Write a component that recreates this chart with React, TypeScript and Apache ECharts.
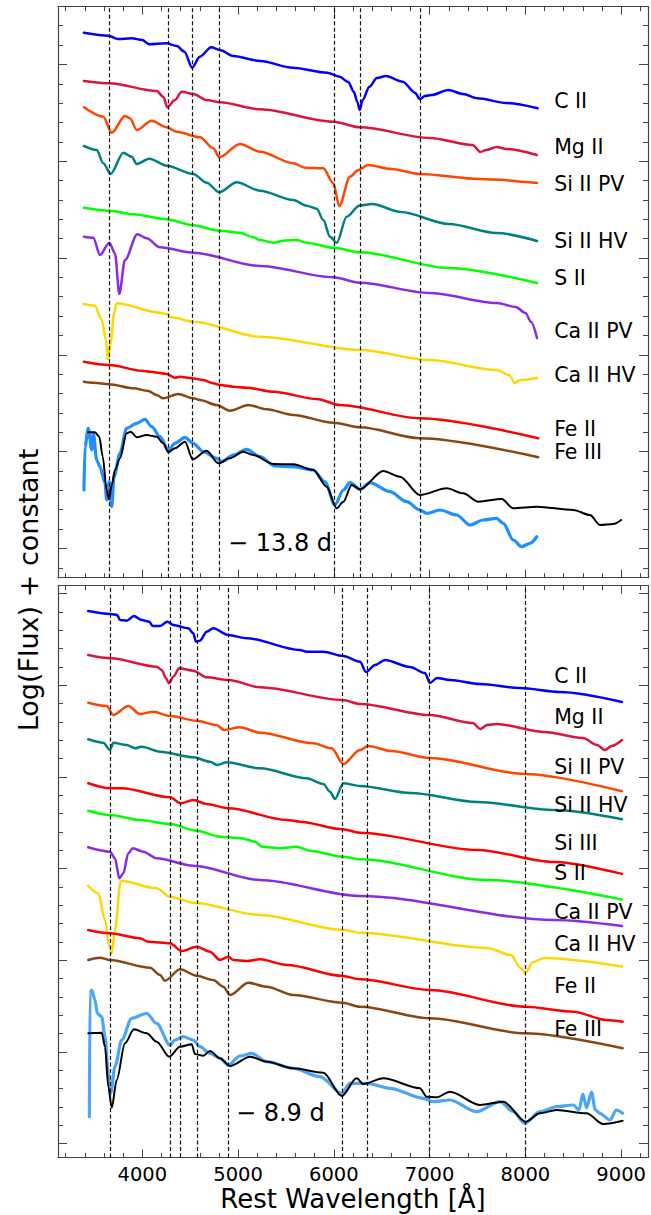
import React, { useEffect, useRef } from 'react';
import * as echarts from 'echarts';

// ---------- axis settings ----------
const X_MIN = 3120;
const X_MAX = 9280;
const xTickLabels = [4000, 5000, 6000, 7000, 8000, 9000];
const X_MINOR_STEP = 200;
const TOP_Y_RANGE = [-5.777, -0.067];
const BOT_Y_RANGE = [-5.775, -0.057];
const TOP_Y_MAJOR0 = -5.484;
const TOP_Y_MAJOR_STEP = 0.968;
const BOT_Y_MAJOR0 = -5.637;
const BOT_Y_MAJOR_STEP = 0.917;

// ---------- line identification markers (Å) ----------
const topLines = [3650, 4270, 4520, 4800, 6000, 6275, 6900];
const botLines = [3670, 4290, 4400, 4570, 4900, 6090, 6350, 7000, 8000];

// ---------- top panel (-13.8 d) ----------
const tCII = [[3390,-0.327],[3650,-0.357],[3745,-0.39],[3890,-0.383],[4000,-0.40],[4070,-0.443],[4250,-0.433],[4360,-0.46],[4440,-0.517],[4520,-0.677],[4600,-0.567],[4720,-0.473],[4810,-0.50],[4950,-0.56],[5230,-0.61],[5570,-0.677],[5930,-0.727],[6060,-0.767],[6150,-0.82],[6210,-0.92],[6245,-1.02],[6270,-1.10],[6300,-1.00],[6371,-0.867],[6450,-0.78],[6544,-0.76],[6719,-0.817],[6850,-0.93],[6899,-0.993],[6950,-0.96],[7021,-0.95],[7195,-0.90],[7350,-0.94],[7498,-0.983],[7800,-1.03],[8127,-1.083]];
const tMgII = [[3391,-0.81],[3656,-0.833],[4150,-0.91],[4219,-0.967],[4261,-1.073],[4341,-1.0],[4411,-0.917],[4532,-0.94],[4672,-1.0],[4811,-1.023],[5229,-1.093],[5994,-1.217],[6273,-1.273],[7000,-1.38],[7450,-1.45],[7530,-1.52],[7590,-1.50],[7700,-1.47],[7800,-1.49],[8120,-1.55]];
const tSiIIPV = [[3391,-1.073],[3593,-1.167],[3681,-1.327],[3819,-1.16],[3872,-1.183],[3942,-1.30],[4098,-1.207],[4255,-1.273],[4359,-1.317],[4602,-1.373],[4741,-1.483],[4804,-1.573],[5020,-1.44],[5229,-1.517],[5577,-1.633],[5699,-1.677],[5890,-1.683],[5994,-1.833],[6057,-2.06],[6168,-1.767],[6255,-1.70],[6356,-1.65],[6600,-1.69],[6899,-1.74],[7526,-1.79],[8121,-1.83]];
const tSiIIHV = [[3391,-1.46],[3524,-1.50],[3593,-1.633],[3670,-1.74],[3802,-1.527],[3889,-1.567],[3942,-1.64],[4073,-1.587],[4255,-1.657],[4532,-1.74],[4672,-1.827],[4804,-1.923],[4986,-1.823],[5229,-1.907],[5577,-2.0],[5717,-2.057],[5821,-2.087],[5890,-2.20],[5960,-2.367],[6030,-2.427],[6134,-2.167],[6266,-2.057],[6400,-2.04],[6700,-2.12],[7200,-2.24],[7700,-2.33],[8121,-2.41]];
const tSII = [[3391,-2.077],[3656,-2.107],[3906,-2.143],[4255,-2.193],[4532,-2.253],[4804,-2.307],[5020,-2.327],[5159,-2.373],[5229,-2.40],[5368,-2.427],[5472,-2.407],[5612,-2.40],[5717,-2.427],[5994,-2.477],[6273,-2.523],[7200,-2.68],[8121,-2.83]];
const tCaIIPV = [[3391,-2.367],[3489,-2.377],[3558,-2.55],[3656,-2.427],[3715,-2.533],[3760,-2.94],[3819,-2.60],[3948,-2.343],[4046,-2.383],[4185,-2.473],[4532,-2.527],[5229,-2.66],[5994,-2.773],[6273,-2.827],[7000,-2.93],[7700,-3.03],[7900,-3.07],[8000,-3.13],[8060,-3.22],[8121,-3.38]];
const tCaIIHV = [[3391,-3.04],[3506,-3.057],[3576,-3.20],[3621,-3.40],[3639,-3.593],[3670,-3.433],[3705,-3.133],[3733,-3.033],[4185,-3.127],[4255,-3.14],[4307,-3.173],[4532,-3.217],[5229,-3.367],[6273,-3.50],[7000,-3.60],[7700,-3.70],[7830,-3.75],[7890,-3.83],[7950,-3.80],[8121,-3.78]];
const tFeII = [[3391,-3.617],[3656,-3.65],[3994,-3.707],[4081,-3.717],[4255,-3.74],[4341,-3.777],[4394,-3.767],[4516,-3.783],[4637,-3.80],[4741,-3.833],[4811,-3.85],[4950,-3.867],[5090,-3.877],[5368,-3.917],[5821,-3.99],[6064,-4.05],[6899,-4.183],[8134,-4.383]];
const tFeIII = [[3391,-3.817],[3489,-3.827],[3656,-3.843],[3906,-3.883],[4063,-3.91],[4150,-3.95],[4219,-3.983],[4376,-3.94],[4532,-3.983],[4602,-4.0],[4777,-4.05],[4916,-4.107],[5107,-4.05],[5299,-4.093],[5577,-4.15],[5994,-4.227],[6273,-4.273],[6899,-4.383],[8134,-4.573]];
const tObs = [[3391,-4.90],[3402,-4.467],[3436,-4.283],[3472,-4.50],[3489,-4.33],[3524,-4.60],[3558,-4.667],[3611,-4.833],[3628,-5.0],[3656,-4.817],[3681,-5.067],[3705,-4.767],[3767,-4.533],[3837,-4.283],[3942,-4.233],[4028,-4.193],[4098,-4.267],[4185,-4.367],[4272,-4.50],[4341,-4.433],[4446,-4.373],[4532,-4.433],[4637,-4.517],[4777,-4.583],[4829,-4.617],[4950,-4.55],[5090,-4.493],[5229,-4.567],[5385,-4.66],[5577,-4.667],[5785,-4.70],[5907,-4.817],[6011,-5.05],[6099,-4.90],[6168,-4.827],[6273,-4.893],[6377,-4.827],[6586,-4.917],[6760,-5.017],[6899,-5.10],[6969,-5.133],[7108,-5.10],[7282,-5.15],[7421,-5.25],[7560,-5.20],[7700,-5.183],[7769,-5.233],[7873,-5.40],[7961,-5.467],[8048,-5.433],[8118,-5.367]];
const tModel = [[3436,-4.323],[3506,-4.323],[3551,-4.367],[3587,-4.567],[3628,-4.90],[3652,-4.993],[3681,-4.85],[3715,-4.70],[3767,-4.583],[3837,-4.333],[3879,-4.317],[3942,-4.373],[4046,-4.35],[4150,-4.367],[4219,-4.433],[4272,-4.523],[4341,-4.483],[4446,-4.417],[4526,-4.593],[4672,-4.507],[4794,-4.633],[4916,-4.583],[5055,-4.517],[5159,-4.55],[5368,-4.64],[5577,-4.643],[5785,-4.70],[5925,-4.867],[6030,-5.083],[6099,-5.017],[6186,-4.85],[6273,-4.893],[6516,-4.71],[6690,-4.767],[6899,-4.95],[7178,-4.883],[7351,-4.933],[7508,-5.017],[7752,-4.99],[7873,-5.083],[8118,-5.067],[8500,-5.10],[8674,-5.15],[8778,-5.25],[8917,-5.24],[9000,-5.20]];

// ---------- bottom panel (-8.9 d) ----------
const bCII = [[3436,-0.31],[3670,-0.34],[3739,-0.35],[3767,-0.40],[3837,-0.407],[3913,-0.36],[3994,-0.40],[4073,-0.417],[4109,-0.46],[4185,-0.46],[4261,-0.417],[4324,-0.45],[4480,-0.483],[4532,-0.533],[4561,-0.617],[4602,-0.607],[4672,-0.517],[4741,-0.483],[4898,-0.55],[5090,-0.583],[5646,-0.70],[5717,-0.717],[5890,-0.717],[6099,-0.76],[6273,-0.817],[6336,-0.92],[6430,-0.85],[6534,-0.80],[6795,-0.87],[6951,-0.93],[7004,-1.03],[7077,-0.98],[7212,-1.00],[7526,-1.04],[7943,-1.08],[8361,-1.12],[9008,-1.22]];
const bMgII = [[3436,-0.75],[3670,-0.783],[4150,-0.867],[4203,-0.90],[4248,-0.983],[4279,-1.033],[4324,-0.967],[4386,-0.883],[4532,-0.907],[4672,-0.973],[4902,-1.0],[5229,-1.073],[6092,-1.20],[6273,-1.24],[7000,-1.35],[7450,-1.43],[7530,-1.49],[7600,-1.45],[7700,-1.44],[8200,-1.52],[8600,-1.58],[8750,-1.65],[8830,-1.70],[8900,-1.66],[9008,-1.60]];
const bSiIIPV = [[3436,-1.227],[3628,-1.26],[3697,-1.35],[3854,-1.26],[3976,-1.34],[4115,-1.317],[4289,-1.36],[4568,-1.407],[4777,-1.45],[4853,-1.50],[5020,-1.473],[5229,-1.527],[5785,-1.633],[5977,-1.683],[6099,-1.84],[6273,-1.70],[6360,-1.66],[6600,-1.71],[7000,-1.78],[8000,-1.94],[9008,-2.113]];
const bSiIIHV = [[3436,-1.593],[3593,-1.627],[3663,-1.70],[3697,-1.627],[3837,-1.65],[3924,-1.683],[3994,-1.667],[4185,-1.717],[4532,-1.773],[4707,-1.817],[4784,-1.85],[4881,-1.823],[5229,-1.883],[5717,-1.983],[5890,-2.04],[5960,-2.117],[6012,-2.19],[6099,-2.033],[6273,-2.06],[6800,-2.13],[7500,-2.22],[8300,-2.30],[9008,-2.392]];
const bSiIII = [[3436,-2.033],[3663,-2.083],[3785,-2.083],[4289,-2.173],[4401,-2.233],[4532,-2.20],[4672,-2.24],[4902,-2.283],[5508,-2.40],[5646,-2.417],[6092,-2.493],[6273,-2.527],[7500,-2.70],[8300,-2.82],[9008,-2.939]];
const bSII = [[3436,-2.307],[3663,-2.35],[3976,-2.40],[4289,-2.44],[4568,-2.507],[4811,-2.567],[5038,-2.583],[5177,-2.617],[5247,-2.667],[5438,-2.683],[5612,-2.667],[5751,-2.707],[6092,-2.767],[6273,-2.793],[7600,-3.00],[9008,-3.196]];
const bCaIIPV = [[3436,-2.673],[3663,-2.717],[3715,-2.783],[3760,-2.983],[3802,-2.933],[3854,-2.733],[3900,-2.683],[4011,-2.717],[4150,-2.783],[4532,-2.857],[5229,-3.00],[6273,-3.16],[8300,-3.40],[9008,-3.46]];
const bCaIIHV = [[3436,-3.06],[3541,-3.133],[3611,-3.40],[3656,-3.667],[3681,-3.733],[3715,-3.50],[3775,-3.007],[4150,-3.083],[4289,-3.167],[4532,-3.227],[5229,-3.35],[6099,-3.50],[6273,-3.527],[7600,-3.68],[7850,-3.75],[7950,-3.88],[8000,-3.93],[8080,-3.82],[8200,-3.78],[9008,-3.866]];
const bFeII = [[3436,-3.50],[3663,-3.533],[3976,-3.583],[4063,-3.617],[4289,-3.633],[4411,-3.71],[4568,-3.667],[4707,-3.717],[4811,-3.80],[4898,-3.767],[4950,-3.80],[5090,-3.81],[5229,-3.793],[5508,-3.85],[6092,-3.96],[6273,-3.993],[7004,-4.10],[8003,-4.267],[8500,-4.317],[8848,-4.40],[9015,-4.417]];
const bFeIII = [[3436,-3.80],[3558,-3.777],[3663,-3.80],[4081,-3.877],[4185,-3.95],[4237,-4.007],[4394,-3.893],[4568,-3.957],[4741,-4.00],[4846,-4.067],[4916,-4.15],[5107,-4.027],[5299,-4.067],[5577,-4.15],[6092,-4.227],[6273,-4.267],[7004,-4.383],[8003,-4.533],[9015,-4.683]];
const bObs = [[3447,-5.367],[3454,-4.133],[3472,-4.10],[3506,-4.20],[3530,-4.333],[3576,-4.367],[3611,-4.567],[3645,-4.933],[3670,-5.133],[3715,-4.867],[3785,-4.60],[3889,-4.383],[4046,-4.333],[4150,-4.433],[4289,-4.65],[4341,-4.60],[4428,-4.567],[4532,-4.60],[4602,-4.667],[4707,-4.733],[4811,-4.783],[4898,-4.85],[5020,-4.76],[5142,-4.733],[5299,-4.817],[5577,-4.883],[5855,-4.967],[6082,-5.133],[6168,-5.033],[6343,-5.033],[6586,-5.083],[6934,-5.183],[7038,-5.217],[7212,-5.20],[7491,-5.317],[7734,-5.217],[7873,-5.317],[7995,-5.433],[8152,-5.317],[8326,-5.267],[8500,-5.25],[8560,-5.30],[8600,-5.14],[8639,-5.28],[8690,-5.12],[8730,-5.30],[8778,-5.333],[8883,-5.40],[8950,-5.30],[9015,-5.333]];
const bModel = [[3436,-4.533],[3576,-4.527],[3611,-4.667],[3645,-5.067],[3681,-5.277],[3733,-5.00],[3819,-4.633],[3913,-4.493],[4046,-4.533],[4150,-4.617],[4282,-4.767],[4394,-4.667],[4516,-4.643],[4550,-4.74],[4637,-4.757],[4707,-4.71],[4811,-4.783],[4916,-4.86],[5125,-4.767],[5299,-4.817],[5577,-4.883],[5890,-4.927],[6082,-5.16],[6238,-4.983],[6307,-5.04],[6516,-4.983],[6899,-5.083],[6969,-5.167],[7073,-5.173],[7212,-5.117],[7526,-5.25],[7769,-5.217],[8003,-5.417],[8152,-5.333],[8326,-5.30],[8639,-5.333],[8813,-5.44],[9015,-5.407]];

// ---------- labels ----------
const topIons = ['C II', 'Mg II', 'Si II PV', 'Si II HV', 'S II', 'Ca II PV', 'Ca II HV', 'Fe II', 'Fe III'];
const botIons = ['C II', 'Mg II', 'Si II PV', 'Si II HV', 'Si III', 'S II', 'Ca II PV', 'Ca II HV', 'Fe II', 'Fe III'];
const LABEL_WAVE = 8300;
const topLabelY = [-1.01, -1.47, -1.84, -2.41, -2.78, -3.31, -3.75, -4.29, -4.52];
const botLabelY = [-0.96, -1.37, -1.87, -2.25, -2.63, -2.93, -3.32, -3.64, -4.06, -4.49];
const topPhase = { text: '\u2212 13.8 d', at: [4895, -5.43] };
const botPhase = { text: '\u2212 8.9 d', at: [4978, -5.33] };

const topSeriesData = [tCII, tMgII, tSiIIPV, tSiIIHV, tSII, tCaIIPV, tCaIIHV, tFeII, tFeIII];
const topColors = ['#0000ff', '#dc143c', '#ff4500', '#008080', '#00ff00', '#8a2be2', '#ffd700', '#ff0000', '#8b4513'];
const botSeriesData = [bCII, bMgII, bSiIIPV, bSiIIHV, bSiIII, bSII, bCaIIPV, bCaIIHV, bFeII, bFeIII];
const botColors = ['#0000ff', '#dc143c', '#ff4500', '#008080', '#ff0000', '#00ff00', '#8a2be2', '#ffd700', '#ff0000', '#8b4513'];

const FONT = 'DejaVu Sans';
const FRAME = '#444444';

function ticksFrom(start: number, step: number, lo: number, hi: number) {
  const out: number[] = [];
  let v = start;
  while (v - step >= lo) v -= step;
  for (; v <= hi + 1e-9; v += step) out.push(+v.toFixed(4));
  return out;
}

function buildAxes(gridIndex: number, showXLabels: boolean, yRange: number[], yMajor0: number, yStep: number) {
  const xMinor = ticksFrom(3200, X_MINOR_STEP, X_MIN, X_MAX).filter(v => xTickLabels.indexOf(Math.round(v)) < 0);
  const yMajor = ticksFrom(yMajor0, yStep, yRange[0], yRange[1]);
  const yMinor = ticksFrom(yMajor0, yStep / 5, yRange[0], yRange[1]).filter(v => !yMajor.some(m => Math.abs(m - v) < 1e-3));
  const xAxes: any[] = [];
  const yAxes: any[] = [];
  for (const pos of ['bottom', 'top']) {
    xAxes.push({
      type: 'value', gridIndex, position: pos, min: X_MIN, max: X_MAX,
      axisLine: { show: true, onZero: false, lineStyle: { color: FRAME, width: 1.2 } },
      axisTick: { show: true, inside: true, length: 8, customValues: xTickLabels, lineStyle: { color: FRAME, width: 1 } },
      axisLabel: {
        show: showXLabels && pos === 'bottom', customValues: xTickLabels, fontSize: 19.5, color: '#000',
        fontFamily: FONT, margin: 7, formatter: (v: number) => String(Math.round(v)),
      },
      splitLine: { show: false },
    });
    xAxes.push({
      type: 'value', gridIndex, position: pos, min: X_MIN, max: X_MAX,
      axisLine: { show: false, onZero: false },
      axisTick: { show: true, inside: true, length: 4.5, customValues: xMinor, lineStyle: { color: FRAME, width: 1 } },
      axisLabel: { show: false },
      splitLine: { show: false },
    });
  }
  for (const pos of ['left', 'right']) {
    yAxes.push({
      type: 'value', gridIndex, position: pos, min: yRange[0], max: yRange[1],
      axisLine: { show: true, onZero: false, lineStyle: { color: FRAME, width: 1.2 } },
      axisTick: { show: true, inside: true, length: 9, customValues: yMajor, lineStyle: { color: FRAME, width: 1 } },
      axisLabel: { show: false },
      splitLine: { show: false },
    });
    yAxes.push({
      type: 'value', gridIndex, position: pos, min: yRange[0], max: yRange[1],
      axisLine: { show: false, onZero: false },
      axisTick: { show: true, inside: true, length: 5, customValues: yMinor, lineStyle: { color: FRAME, width: 1 } },
      axisLabel: { show: false },
      splitLine: { show: false },
    });
  }
  return { xAxes, yAxes };
}

function lineSeries(data: number[][], color: string, axisIdx: number, width = 2.5, z = 2) {
  return {
    type: 'line', data, xAxisIndex: axisIdx, yAxisIndex: axisIdx,
    showSymbol: false, symbol: 'none', smooth: 0.3, smoothMonotone: 'x',
    lineStyle: { color, width, cap: 'round', join: 'round' }, z, silent: true,
  };
}

function panelSeries(
  axisIdx: number, ions: number[][][], colors: string[], obs: number[][], obsColor: string, model: number[][],
  lines: number[], names: string[], labelY: number[], phase: { text: string; at: number[] },
) {
  const s: any[] = ions.map((d, i) => lineSeries(d, colors[i], axisIdx));
  s.push(lineSeries(obs, obsColor, axisIdx, 3.2, 3));
  const m: any = lineSeries(model, '#000000', axisIdx, 2, 4);
  m.markLine = {
    silent: true, symbol: ['none', 'none'], label: { show: false },
    lineStyle: { color: '#111', width: 1.2, type: [4, 2.5] },
    data: lines.map(x => ({ xAxis: x })),
    z: 10,
  };
  s.push(m);
  s.push({
    type: 'scatter', xAxisIndex: axisIdx, yAxisIndex: axisIdx, symbolSize: 0, silent: true, z: 6,
    data: names.map((n, i) => ({ name: n, value: [LABEL_WAVE, labelY[i]] })),
    label: { show: true, position: 'right', distance: 0, formatter: '{b}', fontSize: 20.5, lineHeight: 20, fontFamily: FONT, color: '#000', opacity: 1, align: 'left', verticalAlign: 'middle' },
  });
  s.push({
    type: 'scatter', xAxisIndex: axisIdx, yAxisIndex: axisIdx, symbolSize: 0, silent: true, z: 6,
    data: [{ name: phase.text, value: phase.at }],
    label: { show: true, position: 'right', distance: 0, formatter: '{b}', fontSize: 24, fontFamily: FONT, color: '#000', opacity: 1, align: 'left', verticalAlign: 'middle' },
  });
  return s;
}

export default function App() {
  const ref = useRef<HTMLDivElement>(null);
  useEffect(() => {
    document.body.style.margin = '0';
    if (!ref.current) return;
    const chart = echarts.init(ref.current, undefined, { renderer: 'svg' });
    const a0 = buildAxes(0, false, TOP_Y_RANGE, TOP_Y_MAJOR0, TOP_Y_MAJOR_STEP);
    const a1 = buildAxes(1, true, BOT_Y_RANGE, BOT_Y_MAJOR0, BOT_Y_MAJOR_STEP);
    const series = [
      ...panelSeries(0, topSeriesData, topColors, tObs, '#1e90ff', tModel, topLines, topIons, topLabelY, topPhase),
      ...panelSeries(4, botSeriesData, botColors, bObs, '#4da6f5', bModel, botLines, botIons, botLabelY, botPhase),
    ];
    chart.setOption({
      animation: false,
      backgroundColor: '#ffffff',
      grid: [
        { left: 58, top: 6.7, width: 590, height: 571 },
        { left: 58, top: 585.7, width: 590, height: 571.8 },
      ],
      xAxis: [...a0.xAxes, ...a1.xAxes],
      yAxis: [...a0.yAxes, ...a1.yAxes],
      series,
      graphic: [
        { type: 'text', x: 353, y: 1199, style: { text: 'Rest Wavelength [Å]', fontSize: 26, fontFamily: FONT, fill: '#000', textAlign: 'center', textVerticalAlign: 'middle' } },
        { type: 'text', x: 28, y: 590, rotation: Math.PI / 2, style: { text: 'Log(Flux) + constant', fontSize: 27, fontFamily: FONT, fill: '#000', textAlign: 'center', textVerticalAlign: 'middle' } },
      ],
    });
    return () => chart.dispose();
  }, []);
  return <div ref={ref} style={{ width: 651, height: 1215 }} />;
}
